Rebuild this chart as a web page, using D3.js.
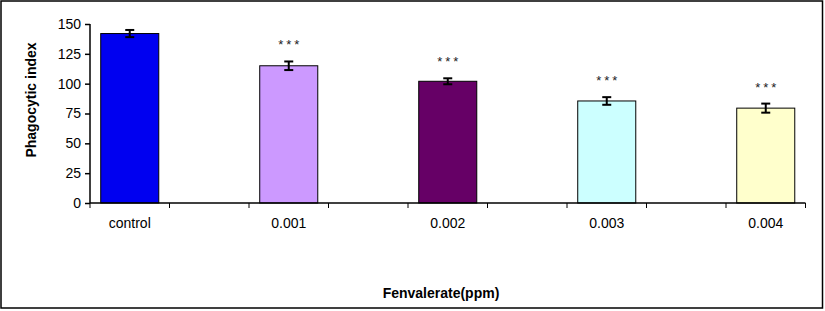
<!DOCTYPE html>
<html>
<head>
<meta charset="utf-8">
<script src="https://cdn.jsdelivr.net/npm/d3@7"></script>
<style>
  html, body { margin: 0; padding: 0; background: #fff; }
  svg { display: block; font-family: "Liberation Sans", Arial, sans-serif; }
</style>
</head>
<body>
<div id="chart"></div>
<script>
// Dados
const categories = ['control', '0.001', '0.002', '0.003', '0.004'];
const values = [142, 115, 102, 85.5, 79.5];
const errors = [3, 3.6, 2.5, 3.2, 3.8];
const colors = ['#0000F0', '#CC99FF', '#660066', '#CCFFFF', '#FFFFCC'];
const marks = ['', '***', '***', '***', '***'];
const yTicks = [0, 25, 50, 75, 100, 125, 150];

const width = 825, height = 311;
const margin = { left: 90, right: 19.5, top: 24, bottom: 108 };

const svg = d3.select('#chart')
    .append('svg')
    .attr('width', width)
    .attr('height', height);

// Moldura
svg.append('rect')
    .attr('x', 1).attr('y', 1)
    .attr('width', 821.5).attr('height', 307)
    .attr('fill', 'none')
    .attr('stroke', '#000')
    .attr('stroke-width', 1.5);

// Slots: cada categoria seguida de um espaço vazio
const slots = [];
categories.forEach((c, i) => {
    slots.push(c);
    if (i < categories.length - 1) slots.push('gap' + i);
});

const x = d3.scaleBand()
    .domain(slots)
    .range([margin.left, width - margin.right])
    .paddingInner(0).paddingOuter(0);

const y = d3.scaleLinear()
    .domain([0, 150])
    .range([height - margin.bottom, margin.top]);

const barW = x.bandwidth() * 0.73;

// Barras
svg.append('g')
    .selectAll('rect')
    .data(categories)
    .enter()
    .append('rect')
    .attr('x', d => x(d) + (x.bandwidth() - barW) / 2)
    .attr('y', (d, i) => y(values[i]))
    .attr('width', barW)
    .attr('height', (d, i) => y(0) - y(values[i]))
    .attr('fill', (d, i) => colors[i])
    .attr('stroke', '#000')
    .attr('stroke-width', 1);

// Barras de erro
const err = svg.append('g')
    .attr('stroke', '#000')
    .attr('stroke-width', 2);

categories.forEach((c, i) => {
    const cx = x(c) + x.bandwidth() / 2;
    const y1 = y(values[i] + errors[i]);
    const y2 = y(values[i] - errors[i]);
    err.append('line').attr('x1', cx).attr('x2', cx).attr('y1', y1).attr('y2', y2);
    err.append('line').attr('x1', cx - 4.5).attr('x2', cx + 4.5).attr('y1', y1).attr('y2', y1);
    err.append('line').attr('x1', cx - 4.5).attr('x2', cx + 4.5).attr('y1', y2).attr('y2', y2);
});

// Asteriscos de significância
svg.append('g')
    .selectAll('text')
    .data(categories)
    .enter()
    .append('text')
    .attr('x', d => x(d) + x.bandwidth() / 2 + 1.5)
    .attr('y', (d, i) => y(values[i] + errors[i]) - 12)
    .attr('text-anchor', 'middle')
    .attr('font-size', '13px')
    .attr('letter-spacing', '3px')
    .attr('fill', '#222')
    .text((d, i) => marks[i]);

// Eixo Y
const yAxis = svg.append('g')
    .attr('transform', `translate(${margin.left},0)`)
    .call(d3.axisLeft(y).tickValues(yTicks).tickSize(5).tickPadding(4));
yAxis.selectAll('text')
    .attr('font-size', '14px')
    .attr('font-family', '"Liberation Sans", Arial, sans-serif')
    .attr('fill', '#000');
yAxis.select('.domain').attr('stroke', '#000').attr('stroke-width', 1.5)
    .attr('d', `M0,${y(0)}V${y(150)}`);
yAxis.selectAll('.tick line').attr('stroke', '#000').attr('stroke-width', 1.5);

// Eixo X: linha, marcas nos limites dos slots
const xg = svg.append('g');
xg.append('line')
    .attr('x1', margin.left).attr('x2', width - margin.right)
    .attr('y1', y(0)).attr('y2', y(0))
    .attr('stroke', '#000').attr('stroke-width', 1.5);

const bounds = slots.map(s => x(s)).concat([x(slots[slots.length - 1]) + x.bandwidth()]);
xg.selectAll('line.tk')
    .data(bounds)
    .enter()
    .append('line')
    .attr('class', 'tk')
    .attr('x1', d => d).attr('x2', d => d)
    .attr('y1', y(0)).attr('y2', y(0) + 5)
    .attr('stroke', '#000').attr('stroke-width', 1);

xg.selectAll('text')
    .data(categories)
    .enter()
    .append('text')
    .attr('x', d => x(d) + x.bandwidth() / 2)
    .attr('y', y(0) + 25)
    .attr('text-anchor', 'middle')
    .attr('font-size', '14px')
    .attr('fill', '#000')
    .text(d => d);

// Títulos dos eixos
svg.append('text')
    .attr('transform', `translate(36,100) rotate(-90)`)
    .attr('text-anchor', 'middle')
    .attr('font-size', '14px')
    .attr('font-weight', 'bold')
    .text('Phagocytic index');

svg.append('text')
    .attr('x', 441)
    .attr('y', 298)
    .attr('text-anchor', 'middle')
    .attr('font-size', '14px')
    .attr('font-weight', 'bold')
    .text('Fenvalerate(ppm)');
</script>
</body>
</html>
